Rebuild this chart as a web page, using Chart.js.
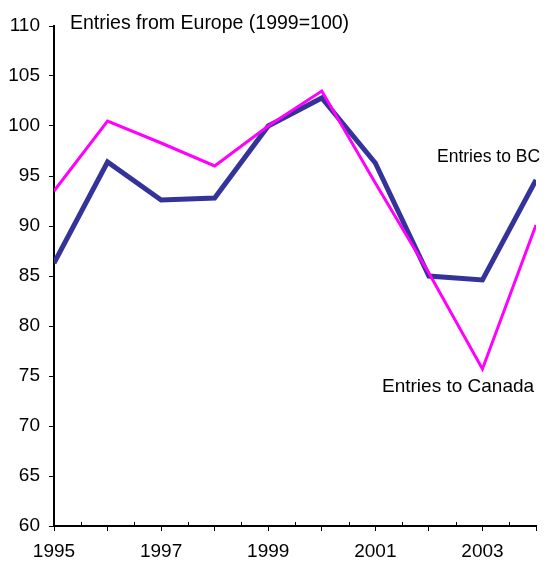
<!DOCTYPE html>
<html lang="en">
<head>
  <meta charset="UTF-8" />
  <title>Entries from Europe</title>
  <script src="https://cdn.jsdelivr.net/npm/chart.js"></script>
  <style>
    html, body { margin: 0; padding: 0; background: #fff; }
    .wrap { position: relative; width: 551px; height: 563px; }
  </style>
</head>
<body>
  <div class="wrap">
    <canvas id="lineChart"></canvas>
  </div>

  <script>
    const years = [1995, 1996, 1997, 1998, 1999, 2000, 2001, 2002, 2003, 2004];
    const entriesBC = [86.3, 96.4, 92.6, 92.8, 100, 102.8, 96.3, 85.0, 84.6, 94.6];
    const entriesCanada = [93.5, 100.5, 98.3, 96.0, 100, 103.5, 94.3, 85.3, 75.7, 90.1];
    const yTicks = [60, 65, 70, 75, 80, 85, 90, 95, 100, 105, 110];
    const labeledYears = [1995, 1997, 1999, 2001, 2003];

    const FONT = 'Liberation Sans, Arial, sans-serif';

    // text labels and the small inward minor ticks on the x axis
    const extras = {
      id: 'extras',
      afterDraw(chart) {
        const c = chart.ctx;
        const x = chart.scales.x;
        const y = chart.scales.y;
        c.save();
        c.strokeStyle = '#000';
        c.lineWidth = 1;
        for (let i = 0; i < years.length - 1; i++) {
          const px = Math.round(x.getPixelForValue(years[i] + 0.5)) + 0.5;
          c.beginPath();
          c.moveTo(px, y.bottom);
          c.lineTo(px, y.bottom - 4);
          c.stroke();
        }
        c.fillStyle = '#000';
        c.textBaseline = 'middle';
        c.textAlign = 'left';
        c.font = '19.5px ' + FONT;
        c.fillText('Entries from Europe (1999=100)', 70, 24);
        c.font = '17.5px ' + FONT;
        c.fillText('Entries to BC', 437, 157);
        c.font = '19px ' + FONT;
        c.fillText('Entries to Canada', 382, 387);
        c.restore();
      }
    };

    new Chart(document.getElementById('lineChart'), {
      type: 'line',
      data: {
        datasets: [
          {
            label: 'Entries to Canada',
            data: years.map((yr, i) => ({ x: yr, y: entriesCanada[i] })),
            borderColor: '#ff00ff',
            borderWidth: 3,
            pointRadius: 0,
            tension: 0,
            fill: false
          },
          {
            label: 'Entries to BC',
            data: years.map((yr, i) => ({ x: yr, y: entriesBC[i] })),
            borderColor: '#333399',
            borderWidth: 5,
            pointRadius: 0,
            tension: 0,
            fill: false
          }
        ]
      },
      options: {
        responsive: true,
        maintainAspectRatio: false,
        animation: false,
        layout: { padding: { top: 26, right: 15, bottom: 0, left: 0 } },
        plugins: {
          legend: { display: false },
          tooltip: { enabled: false }
        },
        scales: {
          x: {
            type: 'linear',
            min: 1995,
            max: 2004,
            border: { color: '#000', width: 2 },
            grid: { drawOnChartArea: false, drawTicks: true, tickLength: 5, color: '#000', lineWidth: 1 },
            ticks: {
              stepSize: 1,
              autoSkip: false,
              maxRotation: 0,
              padding: 9,
              color: '#000',
              font: { family: FONT, size: 19 },
              callback: v => labeledYears.includes(v) ? String(v) : ''
            },
            afterBuildTicks: axis => { axis.ticks = years.map(v => ({ value: v })); },
            afterFit: axis => { axis.height = 37; }
          },
          y: {
            min: 60,
            max: 110,
            border: { color: '#000', width: 2 },
            grid: { drawOnChartArea: false, drawTicks: true, tickLength: 5, color: '#000', lineWidth: 1 },
            ticks: {
              padding: 9,
              color: '#000',
              font: { family: FONT, size: 19 }
            },
            afterBuildTicks: axis => { axis.ticks = yTicks.map(v => ({ value: v })); },
            afterFit: axis => { axis.width = 54; }
          }
        }
      },
      plugins: [extras]
    });
  </script>
</body>
</html>
